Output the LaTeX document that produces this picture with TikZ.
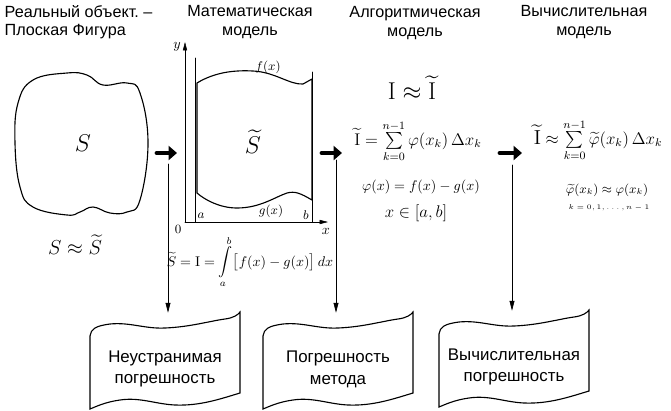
\documentclass[tikz,border=0pt]{standalone}
\usepackage{amsmath,amssymb}
\usepackage[no-math]{fontspec}
\setmainfont{Liberation Sans}
\usepackage{tikz}
\usetikzlibrary{positioning,arrows.meta}

\begin{document}
\begin{tikzpicture}[x=0.025cm, y=-0.025cm, line cap=round,
  every node/.style={font=\normalsize, inner sep=1pt},
  head/.style={align=center, font=\fontsize{11.5}{13}\selectfont},
  err/.style={align=center, minimum height=2.8cm, font=\fontsize{12}{15.5}\selectfont},
  flow/.style={line width=3.5pt, -{Triangle[length=6pt,width=10pt]}},
  down/.style={thin, -{Triangle[length=7pt,width=3.5pt]}},
  axis/.style={thin, -{Triangle[length=6pt,width=3pt]}},
  edge/.style={thick}]
\useasboundingbox (0,0) rectangle (671,410);

\node[head, anchor=north west, align=left] (real) at (3,4) {Реальный объект.~–\\Плоская Фигура};
\node[head] (mat) at (250,22) {Математическая\\модель};
\node[head] (alg) at (415,23) {Алгоритмическая\\модель};
\node[head] (comp) at (584,22) {Вычислительная\\модель};

\draw[edge] plot[smooth cycle, tension=0.7] coordinates {(33,80) (67,73) (87,75) (103,85) (127,83) (140,93) (148,143) (140,200) (127,212) (110,213) (93,207) (80,212) (67,215) (33,207) (20,187) (15,143) (18,103)};
\node (s) at (83,143) {\LARGE$S$};
\node (seq) at (75,245) {\Large$S\approx\widetilde{S}$};

\coordinate (o) at (185,222);
\draw[axis] (o) -- (185,42);
\draw[axis] (o) -- (328,222);
\node (ylab) at (177,47) {$y$};
\node (olab) at (178,229) {\small$0$};
\node (xlab) at (326,231) {$x$};
\draw[thin] (195,222) -- (195,58);
\draw[thin] (312,222) -- (312,72);
\draw[edge] (197,83) .. controls (215,72) and (235,70) .. (253,71) .. controls (275,72) and (290,85) .. (303,84) -- (312,79) -- (312,200) .. controls (300,193) and (295,191) .. (287,193) .. controls (275,197) and (260,208) .. (237,208) .. controls (220,208) and (205,200) .. (197,193) -- cycle;
\node (flab) at (268,67) {\small$f(x)$};
\node (glab) at (271,211) {\small$g(x)$};
\node (alab) at (201,216) {\small$a$};
\node (blab) at (306,215) {\small$b$};
\node (st) at (253,142) {\LARGE$\widetilde{S}$};
\node (int) at (250,262) {$\displaystyle\widetilde{S}=\mathrm{I}=\int\limits_a^b\bigl[f(x)-g(x)\bigr]\,dx$};

\node (ii) at (412,88) {\LARGE$\mathrm{I}\approx\widetilde{\mathrm{I}}$};
\node (sum) at (418,141) {\large$\widetilde{\mathrm{I}}=\sum\limits_{k=0}^{n-1}\varphi(x_k)\,\Delta x_k$};
\node (phi) at (421,187) {$\varphi(x)=f(x)-g(x)$};
\node (ab) at (416,213) {\large$x\in[a,b]$};

\node (csum) at (598,140) {\large$\text{\Large$\widetilde{\mathrm{I}}$}\approx\sum\limits_{k=0}^{n-1}\widetilde{\varphi}(x_k)\,\Delta x_k$};
\node (cphi) at (607,190) {\small$\widetilde{\varphi}(x_k)\approx\varphi(x_k)$};
\node (kk) at (609,208) {\tiny$k=0,1,\dots,n-1$};

\coordinate (f1a) at (157,153);
\coordinate (f1b) at (177,153);
\coordinate (f2a) at (322,153);
\coordinate (f2b) at (342,153);
\coordinate (f3a) at (500,153);
\coordinate (f3b) at (522,153);
\draw[flow] (f1a) -- (f1b);
\draw[flow] (f2a) -- (f2b);
\draw[flow] (f3a) -- (f3b);

\node[err] (err1) at (165,369) {Неустранимая\\погрешность};
\node[err] (err2) at (338,369) {Погрешность\\метода};
\node[err] (err3) at (514,367) {Вычислительная\\погрешность};
\foreach \b in {err1,err2,err3}
  \draw[edge, shift={(\b.center)}] (-75,40) -- (-75,-33) .. controls (-74,-40) and (-70,-43) .. (-55,-45) .. controls (-35,-47) and (-20,-40) .. (0,-41) .. controls (25,-42) and (45,-48) .. (60,-50) .. controls (68,-51) and (73,-54) .. (75,-57) -- (75,24) .. controls (55,30) and (35,37) .. (10,36) .. controls (-10,35) and (-25,28) .. (-45,31) .. controls (-60,33) and (-70,38) .. cycle;

\coordinate (v1) at (168,164);
\coordinate (v2) at (336,160);
\coordinate (v3) at (512,165);
\draw[down] (v1) -- (v1 |- err1.north);
\draw[down] (v2) -- (v2 |- err2.north);
\draw[down] (v3) -- (v3 |- err3.north);
\end{tikzpicture}
\end{document}
